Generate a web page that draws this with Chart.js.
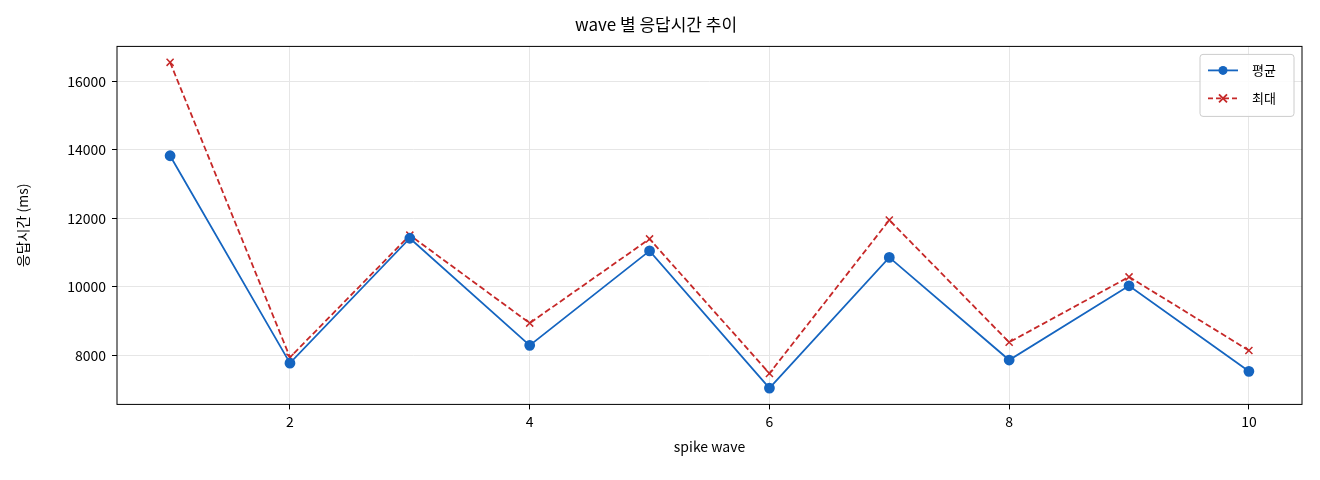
<!DOCTYPE html>
<html>
<head>
<meta charset="utf-8">
<script src="https://cdn.jsdelivr.net/npm/chart.js@4"></script>
<style>
  body { margin: 0; background: #fff; }
  #wrap { width: 1320px; height: 480px; }
</style>
</head>
<body>
<div id="wrap"><canvas id="c"></canvas></div>
<script>
const waves = [1, 2, 3, 4, 5, 6, 7, 8, 9, 10];
const avgMs = [13830, 7770, 11420, 8290, 11050, 7040, 10860, 7860, 10030, 7530];
const maxMs = [16560, 7940, 11510, 8940, 11400, 7470, 11950, 8380, 10290, 8140];
const xTicks = [2, 4, 6, 8, 10];
const yTicks = [8000, 10000, 12000, 14000, 16000];

const FONT = '"Noto Sans CJK KR", "DejaVu Sans", sans-serif';

// 플롯 테두리 + 범례 (차트 안쪽 오른쪽 위)
const framePlugin = {
    id: 'frame',
    afterDraw(chart) {
        const { ctx, chartArea: a } = chart;
        ctx.save();
        ctx.strokeStyle = '#000';
        ctx.lineWidth = 1;
        ctx.strokeRect(a.left, a.top, a.right - a.left, a.bottom - a.top);

        const bw = 94, bh = 62;
        const bx = a.right - bw - 8, by = a.top + 8;
        ctx.fillStyle = 'rgba(255,255,255,0.85)';
        ctx.strokeStyle = '#ccc';
        ctx.beginPath();
        ctx.roundRect(bx, by, bw, bh, 3);
        ctx.fill();
        ctx.stroke();

        const items = [
            { label: '평균', color: '#1565c0', dash: [], marker: 'dot' },
            { label: '최대', color: '#c62828', dash: [5, 3], marker: 'x' }
        ];
        items.forEach((it, i) => {
            const ly = by + 16 + i * 28;
            ctx.strokeStyle = it.color;
            ctx.lineWidth = 1.8;
            ctx.setLineDash(it.dash);
            ctx.beginPath();
            ctx.moveTo(bx + 8, ly);
            ctx.lineTo(bx + 38, ly);
            ctx.stroke();
            ctx.setLineDash([]);
            if (it.marker === 'dot') {
                ctx.fillStyle = it.color;
                ctx.beginPath();
                ctx.arc(bx + 23, ly, 4.5, 0, Math.PI * 2);
                ctx.fill();
            } else {
                ctx.beginPath();
                ctx.moveTo(bx + 19, ly - 4); ctx.lineTo(bx + 27, ly + 4);
                ctx.moveTo(bx + 27, ly - 4); ctx.lineTo(bx + 19, ly + 4);
                ctx.stroke();
            }
            ctx.fillStyle = '#000';
            ctx.font = '13px ' + FONT;
            ctx.textBaseline = 'middle';
            ctx.fillText(it.label, bx + 52, ly);
        });
        ctx.restore();
    }
};

new Chart(document.getElementById('c'), {
    type: 'line',
    data: {
        datasets: [{
            label: '평균',
            data: waves.map((w, i) => ({ x: w, y: avgMs[i] })),
            borderColor: '#1565c0',
            backgroundColor: '#1565c0',
            borderWidth: 1.8,
            pointRadius: 4.5,
            pointStyle: 'circle',
            tension: 0
        }, {
            label: '최대',
            data: waves.map((w, i) => ({ x: w, y: maxMs[i] })),
            borderColor: '#c62828',
            backgroundColor: '#c62828',
            borderWidth: 1.8,
            borderDash: [6, 3],
            pointRadius: 5,
            pointStyle: 'crossRot',
            pointBorderWidth: 1.5,
            tension: 0
        }]
    },
    options: {
        responsive: true,
        maintainAspectRatio: false,
        animation: false,
        layout: { padding: { left: 10, right: 18, top: 8, bottom: 21 } },
        plugins: {
            legend: { display: false },
            tooltip: { enabled: false },
            title: {
                display: true,
                text: 'wave 별 응답시간 추이',
                color: '#000',
                font: { family: FONT, size: 17, weight: 'normal' },
                padding: { top: 6, bottom: 12 }
            }
        },
        scales: {
            x: {
                type: 'linear',
                min: 0.557,
                max: 10.443,
                afterBuildTicks(s) { s.ticks = xTicks.map(v => ({ value: v })); },
                grid: { color: '#e6e6e6', drawTicks: true, tickLength: 5, tickColor: '#000' },
                border: { display: false },
                ticks: { color: '#000', font: { family: FONT, size: 14 }, padding: 4 },
                title: { display: true, text: 'spike wave', color: '#000', font: { family: FONT, size: 14 } }
            },
            y: {
                min: 6564,
                max: 17026,
                afterBuildTicks(s) { s.ticks = yTicks.map(v => ({ value: v })); },
                afterFit(s) { s.width = 107; },
                grid: { color: '#e6e6e6', drawTicks: true, tickLength: 5, tickColor: '#000' },
                border: { display: false },
                ticks: { color: '#000', font: { family: FONT, size: 14 }, padding: 6, callback: v => String(v) },
                title: { display: true, text: '응답시간 (ms)', color: '#000', font: { family: FONT, size: 14 } }
            }
        }
    },
    plugins: [framePlugin]
});
</script>
</body>
</html>
